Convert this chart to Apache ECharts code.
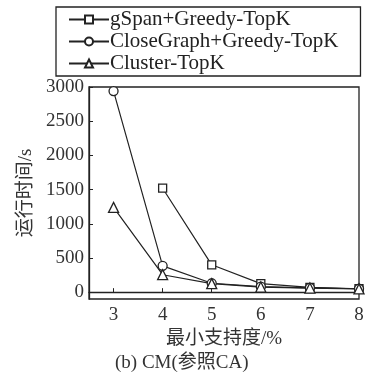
<!DOCTYPE html>
<html>
<head>
<meta charset="utf-8">
<script src="https://cdn.jsdelivr.net/npm/echarts@6/dist/echarts.min.js"></script>
<style>
  html, body { margin: 0; padding: 0; background: #fff; }
  #chart { width: 367px; height: 375px; }
</style>
</head>
<body>
<div id="chart"></div>
<script>
// Minimum support (%) on the x axis
const supports = [3, 4, 5, 6, 7, 8];
// Running time in seconds for each method
const gspanGreedy = [null, 1520, 400, 125, 70, 50];
const closeGraphGreedy = [2940, 385, 130, 80, 62, 50];
const clusterTopK = [1240, 255, 125, 75, 60, 48];
const yTicks = [0, 500, 1000, 1500, 2000, 2500, 3000];
const xTicks = [3, 4, 5, 6, 7, 8];

const serif = '"Liberation Serif", "DejaVu Serif", "Noto Sans CJK SC", serif';
const chart = echarts.init(document.getElementById('chart'), null, { renderer: 'canvas' });

function pairs(vals) {
  return supports.map((s, i) => vals[i] == null ? null : [s, vals[i]]).filter(p => p);
}

function lineSeries(name, vals, symbol, size) {
  return {
    name: name,
    type: 'line',
    data: pairs(vals),
    symbol: symbol,
    symbolSize: size,
    showAllSymbol: true,
    lineStyle: { color: '#222', width: 1.2 },
    itemStyle: { color: '#fff', borderColor: '#222', borderWidth: 1.3 },
    emphasis: { disabled: true },
    animation: false
  };
}

chart.setOption({
  animation: false,
  grid: {
    left: 89, right: 8, top: 87, bottom: 76,
    show: true, borderColor: '#222', borderWidth: 1.3, backgroundColor: 'transparent'
  },
  legend: {
    orient: 'vertical',
    left: 56, top: 7,
    padding: [2, 22, 2, 12],
    itemGap: 1,
    itemWidth: 40, itemHeight: 10,
    borderColor: '#222', borderWidth: 1.3,
    textStyle: { fontFamily: serif, fontSize: 21, lineHeight: 20, color: '#222', padding: [0, 0, 0, -4] },
    data: ['gSpan+Greedy-TopK', 'CloseGraph+Greedy-TopK', 'Cluster-TopK']
  },
  xAxis: {
    type: 'value',
    min: 2.5, max: 8,
    axisLine: { lineStyle: { color: '#222', width: 1.3 } },
    axisTick: { inside: true, length: 4, lineStyle: { color: '#222' }, customValues: xTicks },
    axisLabel: { customValues: xTicks, fontFamily: serif, fontSize: 19, color: '#333', margin: 7 },
    splitLine: { show: false },
    name: '最小支持度/%',
    nameLocation: 'middle',
    nameGap: 29,
    nameTextStyle: { fontFamily: serif, fontSize: 19, color: '#333' }
  },
  yAxis: {
    type: 'value',
    min: -100, max: 3000,
    axisLine: { lineStyle: { color: '#222', width: 1.3 } },
    axisTick: { inside: true, length: 4, lineStyle: { color: '#222' }, customValues: yTicks },
    axisLabel: {
      customValues: yTicks, fontFamily: serif, fontSize: 19, color: '#333', margin: 5,
      formatter: v => String(v)
    },
    splitLine: { show: false },
    name: '运行时间/s',
    nameLocation: 'middle',
    nameGap: 52,
    nameTextStyle: { fontFamily: serif, fontSize: 19, color: '#333' }
  },
  graphic: [{
    type: 'text',
    left: 115,
    top: 354,
    style: { text: '(b) CM(参照CA)', font: '19px ' + serif, fill: '#333' }
  }],
  series: [
    lineSeries('gSpan+Greedy-TopK', gspanGreedy, 'rect', 8),
    lineSeries('CloseGraph+Greedy-TopK', closeGraphGreedy, 'circle', 9),
    lineSeries('Cluster-TopK', clusterTopK, 'triangle', 10)
  ]
});
</script>
</body>
</html>
